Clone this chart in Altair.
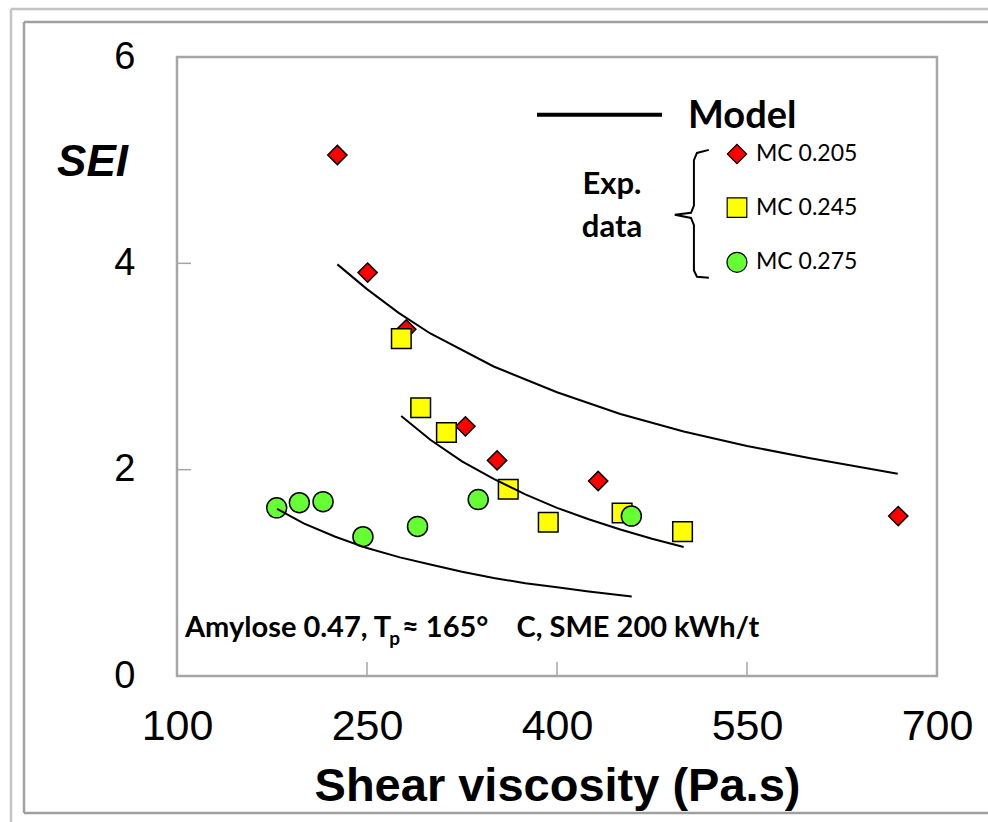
import altair as alt
import pandas as pd

# ---------------- data ----------------
series = ["MC 0.205", "MC 0.245", "MC 0.275"]

mc205_x = [226.6, 250.5, 281.0, 327.7, 352.7, 432.5, 669.4]
mc205_y = [5.05, 3.91, 3.36, 2.42, 2.09, 1.89, 1.55]
mc245_x = [277.1, 292.4, 312.7, 361.5, 393.1, 451.4, 499.1]
mc245_y = [3.27, 2.60, 2.36, 1.81, 1.49, 1.58, 1.40]
mc275_x = [178.7, 196.6, 215.3, 246.8, 289.9, 337.8, 458.7]
mc275_y = [1.63, 1.68, 1.69, 1.35, 1.45, 1.71, 1.55]

model205_x = [226.6, 250, 275, 300, 350, 400, 450, 500, 550, 600, 669]
model205_y = [3.99, 3.75, 3.52, 3.32, 3.00, 2.75, 2.54, 2.37, 2.23, 2.11, 1.96]
model245_x = [277, 300, 325, 350, 375, 400, 425, 450, 475, 500]
model245_y = [2.52, 2.29, 2.08, 1.91, 1.76, 1.63, 1.52, 1.42, 1.33, 1.25]
model275_x = [179, 200, 225, 250, 276, 300, 325, 350, 375, 400, 425, 459]
model275_y = [1.62, 1.48, 1.35, 1.24, 1.15, 1.08, 1.01, 0.95, 0.90, 0.86, 0.82, 0.77]

x_ticks = [100, 250, 400, 550, 700]
y_ticks = [0, 2, 4, 6]
inner_x_ticks = [250, 400, 550]
inner_y_ticks = [2, 4]

colors = ["#FF0000", "#FFFF00", "#66FF33"]
shapes = ["diamond", "square", "circle"]

# ---------------- tables ----------------
pts = pd.concat([
    pd.DataFrame({"x": mc205_x, "y": mc205_y, "series": series[0]}),
    pd.DataFrame({"x": mc245_x, "y": mc245_y, "series": series[1]}),
    pd.DataFrame({"x": mc275_x, "y": mc275_y, "series": series[2]}),
], ignore_index=True)

model = pd.concat([
    pd.DataFrame({"x": model205_x, "y": model205_y, "series": series[0]}),
    pd.DataFrame({"x": model245_x, "y": model245_y, "series": series[1]}),
    pd.DataFrame({"x": model275_x, "y": model275_y, "series": series[2]}),
], ignore_index=True)

W, H = 760, 619
xs = alt.Scale(domain=[100, 700], nice=False, zero=False)
ys = alt.Scale(domain=[0, 6], nice=False, zero=False)
FR = "#a6a6a6"
LAB = "Liberation Sans"
CAL = "Lato"
XT = "Shear viscosity (Pa.s)"
YT = "SEI"

xax = alt.Axis(values=x_ticks, ticks=False, domain=False, grid=False,
               labelFont=LAB, labelFontSize=43, labelColor="black",
               labelPadding=29, labelFlush=False,
               titleFont=LAB, titleFontSize=47, titleFontWeight="bold",
               titleColor="black", titleX=W / 2, titleY=110,
               titleBaseline="middle")
yax = alt.Axis(values=y_ticks, ticks=False, domain=False, grid=False,
               labelFont=LAB, labelFontSize=38, labelColor="black",
               labelPadding=42, labelFlush=False,
               titleFont=LAB, titleFontSize=44, titleFontWeight="bold",
               titleFontStyle="italic", titleColor="black",
               titleAngle=0, titleX=-85, titleY=105,
               titleAlign="center", titleBaseline="middle")


def X(field):
    return alt.X(field, scale=xs, title=XT, axis=xax)


def Y(field):
    return alt.Y(field, scale=ys, title=YT, axis=yax)


shape_s = alt.Scale(domain=series, range=shapes)
fill_s = alt.Scale(domain=series, range=colors)

points = alt.Chart(pts).mark_point(
    filled=True, fillOpacity=1, opacity=1, stroke="black", strokeWidth=1.5
).encode(
    x=X("x:Q"), y=Y("y:Q"),
    shape=alt.Shape("series:N", scale=shape_s, legend=None),
    fill=alt.Fill("series:N", scale=fill_s, legend=None),
    size=alt.Size("series:N", scale=alt.Scale(domain=series, range=[370, 400, 290]), legend=None),
)

lines = alt.Chart(model).mark_line(color="black", strokeWidth=2).encode(
    x=X("x:Q"), y=Y("y:Q"), detail="series:N",
)

xt = alt.Chart(pd.DataFrame({"v": inner_x_ticks})).mark_rule(color=FR, strokeWidth=1.5).encode(
    x=X("v:Q"), y=alt.value(H), y2=alt.value(H - 14))
yt = alt.Chart(pd.DataFrame({"v": inner_y_ticks})).mark_rule(color=FR, strokeWidth=1.5).encode(
    y=Y("v:Q"), x=alt.value(0), x2=alt.value(14))

one = pd.DataFrame({"a": [0]})
frames = [
    alt.Chart(one).mark_rule(color="#c4c4c4", strokeWidth=2.5).encode(
        x=alt.value(-166), x2=alt.value(W + 60), y=alt.value(-48)),
    alt.Chart(one).mark_rule(color="#c4c4c4", strokeWidth=2.5).encode(
        x=alt.value(-166), y=alt.value(-48), y2=alt.value(H + 160)),
    alt.Chart(one).mark_rule(color="#a0a0a0", strokeWidth=2.5).encode(
        x=alt.value(-153), x2=alt.value(W + 60), y=alt.value(-35)),
    alt.Chart(one).mark_rule(color="#a0a0a0", strokeWidth=2.5).encode(
        x=alt.value(-153), y=alt.value(-35), y2=alt.value(756)),
    alt.Chart(one).mark_rule(color="#a0a0a0", strokeWidth=2.5).encode(
        x=alt.value(-153), x2=alt.value(W + 60), y=alt.value(756)),
]

# ---------------- custom legend ----------------
leg_line = alt.Chart(pd.DataFrame({"x": [384.2], "x2": [482.9], "y": [5.44]})).mark_rule(
    color="black", strokeWidth=4).encode(x=X("x:Q"), x2="x2:Q", y=Y("y:Q"))


def txt(x, y, s, size, weight="normal", font=CAL, align="left", style="normal"):
    return alt.Chart(pd.DataFrame({"x": [x], "y": [y], "t": [s]})).mark_text(
        align=align, baseline="middle", font=font, fontSize=size, fontWeight=weight,
        fontStyle=style, color="black").encode(x=X("x:Q"), y=Y("y:Q"), text="t:N")


leg_pts = alt.Chart(pd.DataFrame({"x": [542.1] * 3, "y": [5.06, 4.54, 4.01], "series": series})).mark_point(
    filled=True, fillOpacity=1, opacity=1, stroke="black", strokeWidth=1.2).encode(
    x=X("x:Q"), y=Y("y:Q"),
    shape=alt.Shape("series:N", scale=shape_s, legend=None),
    fill=alt.Fill("series:N", scale=fill_s, legend=None),
    size=alt.Size("series:N", scale=alt.Scale(domain=series, range=[200, 256, 220]), legend=None))

leg_lbl = alt.Chart(pd.DataFrame({"x": [557.1] * 3, "y": [5.06, 4.54, 4.01], "t": series})).mark_text(
    align="left", baseline="middle", font=CAL, fontSize=23, color="black").encode(
    x=X("x:Q"), y=Y("y:Q"), text="t:N")

brace_x = [519.9, 510.5, 508.1, 508.1, 505.8, 493.0, 505.8, 508.1, 508.1, 510.5, 519.9]
brace_y = [5.10, 5.07, 5.00, 4.56, 4.49, 4.47, 4.44, 4.37, 3.93, 3.87, 3.86]
brace = alt.Chart(pd.DataFrame({"x": brace_x, "y": brace_y, "i": list(range(len(brace_x)))})).mark_line(
    color="black", strokeWidth=2).encode(x=X("x:Q"), y=Y("y:Q"), order="i:Q")

NB = "\u00a0"
texts = [
    txt(503.4, 5.42, "Model", 38, "bold"),
    txt(443.4, 4.76, "Exp.", 31, "bold", align="center"),
    txt(443.4, 4.34, "data", 31, "bold", align="center"),
    txt(106.3, 0.47, "Amylose 0.47, T", 29, "bold"),
    txt(267.6, 0.36, "p", 19, "bold"),
    txt(277.6, 0.47, "\u2248 165\u00b0" + NB * 4 + "C, SME 200 kWh/t", 29, "bold"),
]

chart = alt.layer(
    points, lines, xt, yt, *frames, leg_line, leg_pts, leg_lbl, brace, *texts
).properties(
    width=W, height=H,
    padding={"left": 177, "top": 57, "right": 51, "bottom": 146},
    autosize=alt.AutoSizeParams(type="none"),
    background="white",
).configure_view(stroke=FR, strokeWidth=2.5)

chart.save("out.html", embed_options={"renderer": "svg", "actions": False})
